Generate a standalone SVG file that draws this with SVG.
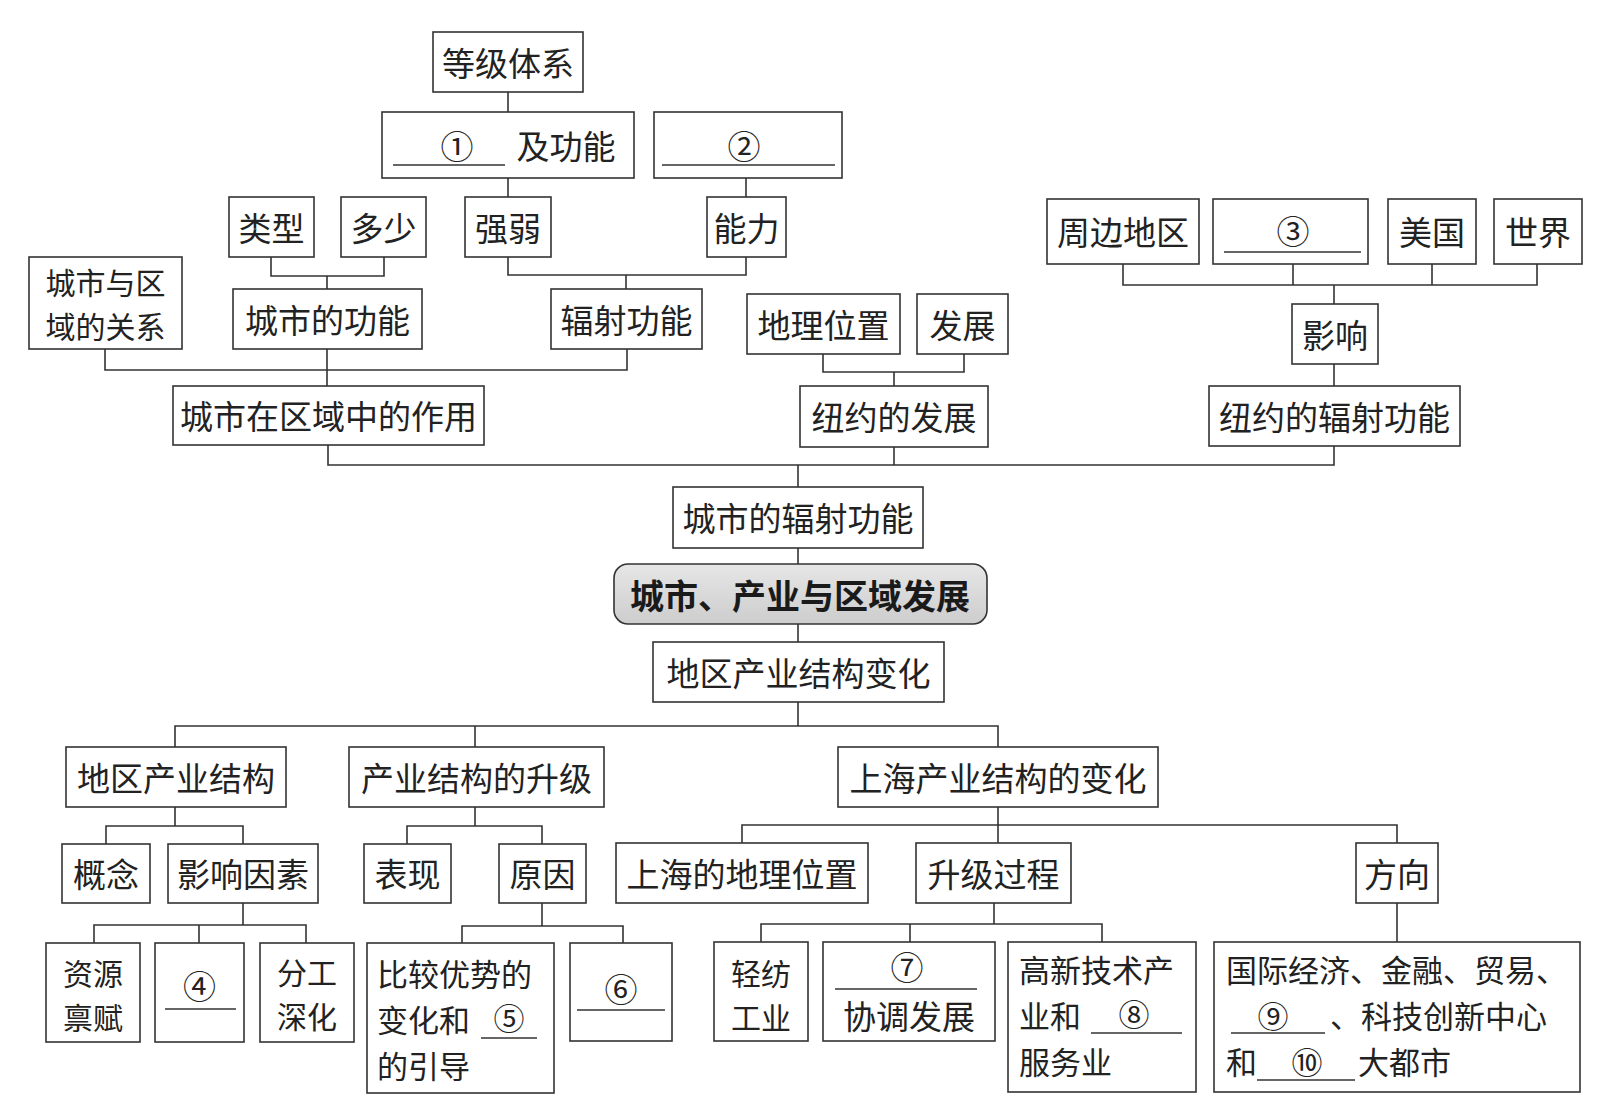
<svg xmlns="http://www.w3.org/2000/svg" width="1620" height="1120" viewBox="0 0 1620 1120">
<defs>
<style>
.b{fill:#fff;stroke:#333;stroke-width:1.6}
.t{font-family:"Noto Sans CJK SC","Noto Sans CJK JP",sans-serif;font-size:33px;fill:#222;text-anchor:middle;dominant-baseline:central}
.s{font-size:31px}
.s2{font-size:30px}
.l{text-anchor:start}
.u{stroke:#333;stroke-width:1.4}
.c{fill:none;stroke:#333;stroke-width:1.6}
.title{font-family:"Noto Sans CJK SC",sans-serif;font-size:34px;font-weight:bold;fill:#1a1a1a;text-anchor:middle;dominant-baseline:central}
</style>
<linearGradient id="g" x1="0" y1="0" x2="0" y2="1">
<stop offset="0" stop-color="#e6e6e6"/>
<stop offset="1" stop-color="#cdcdcd"/>
</linearGradient>
</defs>
<rect width="1620" height="1120" fill="#fff"/>
<g id="connectors">
<path class="c" d="M508 92V112M508 178V197M746 178V197"/>
<path class="c" d="M271 257V276H384V257M327 276V289"/>
<path class="c" d="M508 257V275H746V257M626 275V289"/>
<path class="c" d="M105 349V370H627V349M327 349V386"/>
<path class="c" d="M823 354V372H964V354M894 372V386"/>
<path class="c" d="M1123 264V285H1537V264M1293 264V285M1432 264V285M1334 285V304M1334 364V386"/>
<path class="c" d="M328 445V465H1334V446M894 447V465M798 465V487M798 548V564M798 624V642M798 702V726"/>
<path class="c" d="M175 747V726H998V747M475 726V747"/>
<path class="c" d="M175 807V826M106 844V826H243V844"/>
<path class="c" d="M243 903V925M94 943V925H306V943M199 925V943"/>
<path class="c" d="M475 807V826M407 844V826H542V844"/>
<path class="c" d="M542 903V926M462 943V926H623V943"/>
<path class="c" d="M998 807V843M742 843V825H1397V843"/>
<path class="c" d="M994 903V924M761 942V924H1102V942M910 924V942"/>
<path class="c" d="M1397 903V942"/>
</g>
<g id="n1"><rect class="b" x="433" y="32" width="150" height="60"/><text class="t" x="508" y="62">等级体系</text></g>
<g id="n2"><rect class="b" x="382" y="112" width="252" height="66"/><text class="t" x="457" y="145">①</text><line class="u" x1="393" y1="165" x2="505" y2="165"/><text class="t" x="566" y="145">及功能</text></g>
<g id="n3"><rect class="b" x="654" y="112" width="188" height="66"/><text class="t" x="744" y="145">②</text><line class="u" x1="662" y1="165" x2="835" y2="165"/></g>
<g id="n4"><rect class="b" x="229" y="197" width="85" height="60"/><text class="t" x="271.5" y="227">类型</text></g>
<g id="n5"><rect class="b" x="341" y="197" width="85" height="60"/><text class="t" x="383.5" y="227">多少</text></g>
<g id="n6"><rect class="b" x="465" y="197" width="86" height="60"/><text class="t" x="508" y="227">强弱</text></g>
<g id="n7"><rect class="b" x="707" y="197" width="79" height="60"/><text class="t" x="746.5" y="227">能力</text></g>
<g id="n8"><rect class="b" x="29" y="257" width="153" height="92"/><text class="t s2" x="105.5" y="281"><tspan x="105.5" y="281">城市与区</tspan><tspan x="105.5" y="325">域的关系</tspan></text></g>
<g id="n9"><rect class="b" x="233" y="289" width="189" height="60"/><text class="t" x="327.5" y="319">城市的功能</text></g>
<g id="n10"><rect class="b" x="551" y="289" width="151" height="60"/><text class="t" x="626.5" y="319">辐射功能</text></g>
<g id="n11"><rect class="b" x="747" y="294" width="153" height="60"/><text class="t" x="823.5" y="324">地理位置</text></g>
<g id="n12"><rect class="b" x="917" y="294" width="91" height="60"/><text class="t" x="962.5" y="324">发展</text></g>
<g id="n13"><rect class="b" x="1047" y="199" width="152" height="65"/><text class="t" x="1123" y="231">周边地区</text></g>
<g id="n14"><rect class="b" x="1213" y="199" width="155" height="65"/><text class="t" x="1293" y="230">③</text><line class="u" x1="1224" y1="252" x2="1361" y2="252"/></g>
<g id="n15"><rect class="b" x="1388" y="199" width="88" height="65"/><text class="t" x="1432" y="231">美国</text></g>
<g id="n16"><rect class="b" x="1494" y="199" width="88" height="65"/><text class="t" x="1538" y="231">世界</text></g>
<g id="n17"><rect class="b" x="1292" y="304" width="86" height="60"/><text class="t" x="1335" y="334">影响</text></g>
<g id="n18"><rect class="b" x="173" y="386" width="311" height="59"/><text class="t" x="328.5" y="415">城市在区域中的作用</text></g>
<g id="n19"><rect class="b" x="800" y="386" width="188" height="61"/><text class="t" x="894" y="416">纽约的发展</text></g>
<g id="n20"><rect class="b" x="1209" y="386" width="251" height="60"/><text class="t" x="1334.5" y="416">纽约的辐射功能</text></g>
<g id="n21"><rect class="b" x="673" y="487" width="250" height="61"/><text class="t" x="798" y="517">城市的辐射功能</text></g>
<g id="n22"><rect x="614" y="564" width="373" height="60" rx="14" fill="url(#g)" stroke="#333" stroke-width="1.6"/><text class="title" x="800" y="594">城市、产业与区域发展</text></g>
<g id="n23"><rect class="b" x="653" y="642" width="291" height="60"/><text class="t" x="798.5" y="672">地区产业结构变化</text></g>
<g id="n24"><rect class="b" x="66" y="747" width="220" height="60"/><text class="t" x="176" y="777">地区产业结构</text></g>
<g id="n25"><rect class="b" x="349" y="747" width="255" height="60"/><text class="t" x="476.5" y="777">产业结构的升级</text></g>
<g id="n26"><rect class="b" x="838" y="747" width="320" height="60"/><text class="t" x="998" y="777">上海产业结构的变化</text></g>
<g id="n27"><rect class="b" x="62" y="844" width="88" height="59"/><text class="t" x="106" y="873">概念</text></g>
<g id="n28"><rect class="b" x="168" y="844" width="150" height="59"/><text class="t" x="243" y="873">影响因素</text></g>
<g id="n29"><rect class="b" x="364" y="844" width="87" height="59"/><text class="t" x="407.5" y="873">表现</text></g>
<g id="n30"><rect class="b" x="499" y="844" width="87" height="59"/><text class="t" x="542.5" y="873">原因</text></g>
<g id="n31"><rect class="b" x="616" y="843" width="252" height="60"/><text class="t" x="742" y="873">上海的地理位置</text></g>
<g id="n32"><rect class="b" x="916" y="843" width="155" height="60"/><text class="t" x="993.5" y="873">升级过程</text></g>
<g id="n33"><rect class="b" x="1356" y="843" width="82" height="60"/><text class="t" x="1397" y="873">方向</text></g>
<g id="n34"><rect class="b" x="46" y="943" width="94" height="99"/><text class="t s2" x="93" y="972"><tspan x="93" y="972">资源</tspan><tspan x="93" y="1016">禀赋</tspan></text></g>
<g id="n35"><rect class="b" x="155" y="943" width="89" height="99"/><text class="t" x="199.5" y="985">④</text><line class="u" x1="165" y1="1009" x2="236" y2="1009"/></g>
<g id="n36"><rect class="b" x="260" y="943" width="94" height="99"/><text class="t s2" x="307" y="971"><tspan x="307" y="971">分工</tspan><tspan x="307" y="1015">深化</tspan></text></g>
<g id="n37"><rect class="b" x="367" y="943" width="187" height="150"/><text class="t s l" x="377" y="972"><tspan x="377" y="972">比较优势的</tspan><tspan x="377" y="1018">变化和</tspan><tspan x="377" y="1064">的引导</tspan></text><text class="t s" x="509" y="1016">⑤</text><line class="u" x1="481" y1="1038" x2="537" y2="1038"/></g>
<g id="n38"><rect class="b" x="570" y="943" width="102" height="98"/><text class="t" x="621" y="988">⑥</text><line class="u" x1="577" y1="1010" x2="665" y2="1010"/></g>
<g id="n39"><rect class="b" x="714" y="942" width="94" height="99"/><text class="t s2" x="761" y="972"><tspan x="761" y="972">轻纺</tspan><tspan x="761" y="1016">工业</tspan></text></g>
<g id="n40"><rect class="b" x="823" y="942" width="172" height="99"/><text class="t" x="907" y="966">⑦</text><line class="u" x1="835" y1="989" x2="977" y2="989"/><text class="t" x="909" y="1015">协调发展</text></g>
<g id="n41"><rect class="b" x="1008" y="942" width="188" height="150"/><text class="t s l" x="1019" y="968"><tspan x="1019" y="968">高新技术产</tspan><tspan x="1019" y="1014">业和</tspan><tspan x="1019" y="1060">服务业</tspan></text><text class="t s" x="1134" y="1012">⑧</text><line class="u" x1="1091" y1="1033" x2="1182" y2="1033"/></g>
<g id="n42"><rect class="b" x="1214" y="942" width="366" height="150"/><text class="t s l" x="1226" y="968">国际经济、金融、贸易、</text><text class="t s" x="1273" y="1014">⑨</text><line class="u" x1="1231" y1="1033" x2="1325" y2="1033"/><text class="t s l" x="1330" y="1014">、科技创新中心</text><text class="t s l" x="1226" y="1060">和</text><text class="t s" x="1307" y="1060">⑩</text><line class="u" x1="1257" y1="1080" x2="1355" y2="1080"/><text class="t s l" x="1358" y="1060">大都市</text></g>
</svg>
